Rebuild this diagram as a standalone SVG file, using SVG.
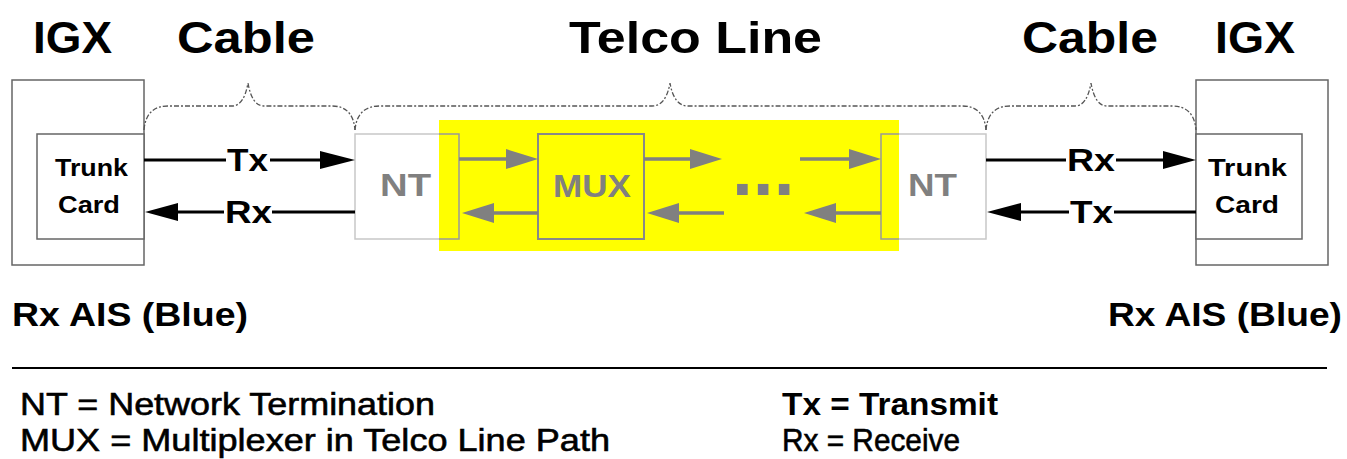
<svg xmlns="http://www.w3.org/2000/svg" width="1347" height="459" viewBox="0 0 1347 459">
<style>
text{font-family:"Liberation Sans",Arial,sans-serif;}
.title{font-size:45px;font-weight:bold;fill:#000;}
.card{font-size:24px;font-weight:bold;fill:#000;}
.lbl{font-size:31px;font-weight:bold;fill:#000;}
.gt{font-size:32px;font-weight:bold;fill:#808080;}
.ais{font-size:34px;font-weight:bold;fill:#000;}
.leg{font-size:32px;fill:#000;stroke:#000;stroke-width:0.6;}
.legb{font-size:32px;font-weight:bold;fill:#000;}
.box{fill:#fff;stroke:#666;stroke-width:1.5;}
.ntbox{fill:none;stroke:#c8c8c8;stroke-width:1.5;}
.ntin{fill:none;stroke:#999;stroke-width:1.5;}
.mux{fill:none;stroke:#888;stroke-width:2;}
.brace{fill:none;stroke:#555;stroke-width:1.3;stroke-dasharray:5 2 2 2;}
.bl{stroke:#000;stroke-width:3;fill:none;}
.bh{fill:#000;}
.gl{stroke:#808080;stroke-width:3.5;fill:none;}
.gh{fill:#808080;}
</style>
<rect width="1347" height="459" fill="#fff"/>

<g id="telco-highlight"><rect x="439" y="120" width="460" height="131" fill="#ffff00"/></g>

<g id="igx-left">
<rect class="box" x="12" y="80" width="132" height="185"/>
<text class="title" x="33" y="53" textLength="79" lengthAdjust="spacingAndGlyphs">IGX</text>
</g>
<g id="trunk-left">
<rect class="box" x="37" y="134" width="107" height="105"/>
<text class="card" x="55" y="176" textLength="73" lengthAdjust="spacingAndGlyphs">Trunk</text>
<text class="card" x="58" y="213" textLength="62" lengthAdjust="spacingAndGlyphs">Card</text>
</g>

<g id="nt-left">
<path class="ntbox" d="M439,134 H355 V239 H439"/>
<path class="ntin" d="M439,134 H459 V239 H439"/>
<text class="gt" x="380" y="196" textLength="51" lengthAdjust="spacingAndGlyphs">NT</text>
</g>

<g id="mux">
<rect class="mux" x="538" y="134" width="106" height="105"/>
<text class="gt" x="553" y="197" textLength="78" lengthAdjust="spacingAndGlyphs">MUX</text>
</g>

<g id="dots"><text class="gt" style="font-size:75px" x="732" y="195">...</text></g>

<g id="nt-right">
<path class="ntbox" d="M899,134 H986 V239 H899"/>
<path class="ntin" d="M899,134 H881 V239 H899"/>
<text class="gt" x="908" y="196" textLength="49" lengthAdjust="spacingAndGlyphs">NT</text>
</g>

<g id="igx-right">
<rect class="box" x="1196" y="80" width="132" height="185"/>
<text class="title" x="1215" y="53" textLength="80" lengthAdjust="spacingAndGlyphs">IGX</text>
</g>
<g id="trunk-right">
<rect class="box" x="1196" y="134" width="106" height="105"/>
<text class="card" x="1208" y="176" textLength="79" lengthAdjust="spacingAndGlyphs">Trunk</text>
<text class="card" x="1215" y="213" textLength="64" lengthAdjust="spacingAndGlyphs">Card</text>
</g>

<g id="braces">
<path class="brace" d="M144,130 Q146,106 168,106 L232,106 Q244,106 248,83 Q252,106 264,106 L332,106 Q353,106 355,130"/>
<path class="brace" d="M355,130 Q357,106 380,106 L652,106 Q666,106 670,83 Q674,106 688,106 L962,106 Q984,106 986,130"/>
<path class="brace" d="M986,130 Q988,106 1010,106 L1075,106 Q1087,106 1091,83 Q1095,106 1107,106 L1172,106 Q1194,106 1196,130"/>
<text class="title" x="177" y="53" textLength="138" lengthAdjust="spacingAndGlyphs">Cable</text>
<text class="title" x="569" y="53" textLength="253" lengthAdjust="spacingAndGlyphs">Telco Line</text>
<text class="title" x="1022" y="53" textLength="136" lengthAdjust="spacingAndGlyphs">Cable</text>
</g>

<g id="connectors">
<path class="bl" d="M144,160 H226 M270,160 H322"/>
<polygon class="bh" points="320,151 355,160 320,169"/>
<text class="lbl" x="227" y="171" textLength="41" lengthAdjust="spacingAndGlyphs">Tx</text>
<path class="bl" d="M175,212 H224 M272,212 H355"/>
<polygon class="bh" points="178,203 145,212 178,221"/>
<text class="lbl" x="225" y="223" textLength="47" lengthAdjust="spacingAndGlyphs">Rx</text>
<path class="bl" d="M986,160 H1066 M1116,160 H1165"/>
<polygon class="bh" points="1163,151 1196,160 1163,169"/>
<text class="lbl" x="1067" y="171" textLength="48" lengthAdjust="spacingAndGlyphs">Rx</text>
<path class="bl" d="M1018,212 H1069 M1114,212 H1196"/>
<polygon class="bh" points="1021,203 987,212 1021,221"/>
<text class="lbl" x="1070" y="223" textLength="43" lengthAdjust="spacingAndGlyphs">Tx</text>
<path class="gl" d="M459,159 H508 M644,159 H692 M800,159 H851"/>
<polygon class="gh" points="506,149 538,159 506,169"/>
<polygon class="gh" points="690,149 722,159 690,169"/>
<polygon class="gh" points="849,149 881,159 849,169"/>
<path class="gl" d="M492,213 H538 M677,213 H724 M834,213 H881"/>
<polygon class="gh" points="494,203 462,213 494,223"/>
<polygon class="gh" points="679,203 647,213 679,223"/>
<polygon class="gh" points="836,203 804,213 836,223"/>
</g>

<g id="status">
<text class="ais" x="12" y="326" textLength="236" lengthAdjust="spacingAndGlyphs">Rx AIS (Blue)</text>
<text class="ais" x="1108" y="326" textLength="234" lengthAdjust="spacingAndGlyphs">Rx AIS (Blue)</text>
</g>

<g id="legend">
<line x1="12" y1="368" x2="1327" y2="368" stroke="#000" stroke-width="2"/>
<text class="leg" x="20" y="415" textLength="415" lengthAdjust="spacingAndGlyphs">NT = Network Termination</text>
<text class="leg" x="20" y="451" textLength="590" lengthAdjust="spacingAndGlyphs">MUX = Multiplexer in Telco Line Path</text>
<text class="legb" x="782" y="415" textLength="216" lengthAdjust="spacingAndGlyphs">Tx = Transmit</text>
<text class="leg" x="782" y="451" textLength="178" lengthAdjust="spacingAndGlyphs">Rx = Receive</text>
</g>
</svg>
